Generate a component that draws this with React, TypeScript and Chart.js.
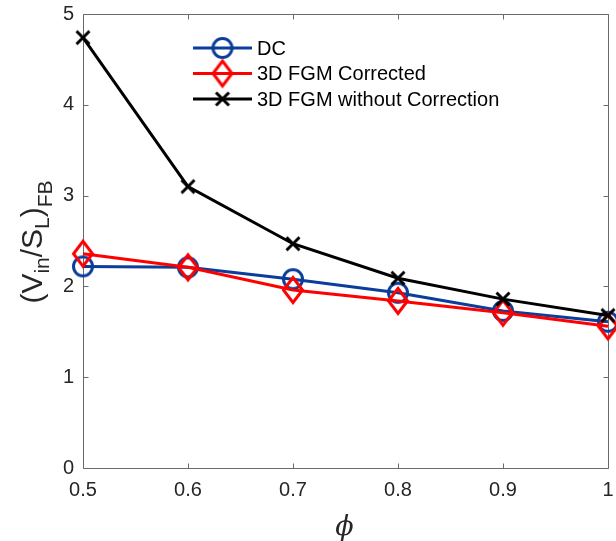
import { useEffect, useRef } from 'react';
import { Chart, registerables } from 'chart.js';

Chart.register(...registerables);

// ---- data ----
const PHI_VALUES = [0.5, 0.6, 0.7, 0.8, 0.9, 1.0];
const DC_VALUES = [2.22, 2.21, 2.08, 1.93, 1.73, 1.61];
const FGM_CORRECTED = [2.36, 2.21, 1.96, 1.84, 1.71, 1.56];
const FGM_UNCORRECTED = [4.74, 3.1, 2.47, 2.09, 1.86, 1.68];
const SERIES_NAMES = ['DC', '3D FGM Corrected', '3D FGM without Correction'];
const X_TICKS = [0.5, 0.6, 0.7, 0.8, 0.9, 1.0];
const Y_TICKS = [0, 1, 2, 3, 4, 5];

const BLUE = '#0b3d9a';
const RED = '#ff0000';
const BLACK = '#000000';
const AXIS = '#262626';
const FONT = '"Liberation Sans", Arial, Helvetica, sans-serif';

function makeMarker(kind: string, color: string): HTMLCanvasElement {
  const c = document.createElement('canvas');
  c.width = 34;
  c.height = 34;
  const g = c.getContext('2d')!;
  g.strokeStyle = color;
  g.lineWidth = 3;
  const m = 17;
  g.beginPath();
  if (kind === 'circle') {
    g.arc(m, m, 9.5, 0, Math.PI * 2);
  } else if (kind === 'diamond') {
    g.moveTo(m, m - 12.5);
    g.lineTo(m + 9.5, m);
    g.lineTo(m, m + 12.5);
    g.lineTo(m - 9.5, m);
    g.closePath();
  } else {
    g.moveTo(m - 6.5, m - 6.5);
    g.lineTo(m + 6.5, m + 6.5);
    g.moveTo(m + 6.5, m - 6.5);
    g.lineTo(m - 6.5, m + 6.5);
  }
  g.stroke();
  return c;
}

export default function App() {
  const ref = useRef<HTMLCanvasElement>(null);

  useEffect(() => {
    const markers = [
      makeMarker('circle', BLUE),
      makeMarker('diamond', RED),
      makeMarker('x', BLACK),
    ];
    const colors = [BLUE, RED, BLACK];
    const seriesValues = [DC_VALUES, FGM_CORRECTED, FGM_UNCORRECTED];

    const boxPlugin = {
      id: 'matlabBox',
      beforeDatasetsDraw(chart: any) {
        const { ctx, chartArea: a, scales } = chart;
        ctx.save();
        ctx.strokeStyle = '#6a6a6a';
        ctx.lineWidth = 1;
        const L = Math.round(a.left) + 0.5;
        const R = Math.round(a.right) + 0.5;
        const T = Math.round(a.top) + 0.5;
        const B = Math.round(a.bottom) + 0.5;
        ctx.beginPath();
        ctx.rect(L, T, R - L, B - T);
        const tl = 5;
        X_TICKS.forEach((v) => {
          const px = Math.round(scales.x.getPixelForValue(v)) + 0.5;
          ctx.moveTo(px, B);
          ctx.lineTo(px, B - tl);
          ctx.moveTo(px, T);
          ctx.lineTo(px, T + tl);
        });
        Y_TICKS.forEach((v) => {
          const py = Math.round(scales.y.getPixelForValue(v)) + 0.5;
          ctx.moveTo(L, py);
          ctx.lineTo(L + tl, py);
          ctx.moveTo(R, py);
          ctx.lineTo(R - tl, py);
        });
        ctx.stroke();
        ctx.restore();
      },
      afterDraw(chart: any) {
        const { ctx, chartArea: a } = chart;
        ctx.save();
        // legend
        const lx0 = 193, lx1 = 252, tx = 257;
        const rows = [48, 73.5, 99];
        ctx.font = `20px ${FONT}`;
        ctx.textBaseline = 'middle';
        ctx.textAlign = 'left';
        SERIES_NAMES.forEach((name, i) => {
          const y = rows[i];
          ctx.strokeStyle = colors[i];
          ctx.lineWidth = 3;
          ctx.beginPath();
          ctx.moveTo(lx0, y);
          ctx.lineTo(lx1, y);
          ctx.stroke();
          const mk = markers[i];
          ctx.drawImage(mk, (lx0 + lx1) / 2 - mk.width / 2, y - mk.height / 2);
          ctx.fillStyle = '#000';
          ctx.fillText(name, tx, y + 1);
        });

        // y axis title (V_in/S_L)_FB, rotated
        const cy = 242;
        ctx.translate(42, cy);
        ctx.rotate(-Math.PI / 2);
        const mainF = `30px ${FONT}`;
        const subF = `21px ${FONT}`;
        const parts: [string, boolean, number][] = [
          ['(V', false, 0],
          ['in', true, 7],
          ['/S', false, 0],
          ['L', true, 7],
          [')', false, 0],
          ['FB', true, 10],
        ];
        let total = 0;
        parts.forEach(([t, sub]) => {
          ctx.font = sub ? subF : mainF;
          total += ctx.measureText(t).width;
        });
        let x = -total / 2;
        ctx.fillStyle = AXIS;
        ctx.textBaseline = 'alphabetic';
        parts.forEach(([t, sub, off]) => {
          ctx.font = sub ? subF : mainF;
          ctx.fillText(t, x, off);
          x += ctx.measureText(t).width;
        });
        ctx.restore();

        // x axis title phi
        ctx.save();
        ctx.font = 'italic 27px "DejaVu Serif", "Liberation Serif", serif';
        ctx.fillStyle = AXIS;
        ctx.textAlign = 'center';
        ctx.textBaseline = 'alphabetic';
        ctx.fillText('\u03D5', (a.left + a.right) / 2 - 1, 535);
        ctx.restore();
      },
    };

    const datasets = seriesValues.map((vals, i) => ({
      label: SERIES_NAMES[i],
      data: PHI_VALUES.map((x, j) => ({ x, y: vals[j] })),
      borderColor: colors[i],
      backgroundColor: colors[i],
      borderWidth: 3,
      pointStyle: markers[i],
      pointRadius: 10,
      tension: 0,
      clip: false as any,
      order: 3 - i,
    }));

    const chart = new Chart(ref.current!, {
      type: 'line',
      data: { datasets },
      plugins: [boxPlugin],
      options: {
        animation: false,
        responsive: false,
        devicePixelRatio: 1,
        layout: { autoPadding: false, padding: { top: 14, right: 8, bottom: 0, left: 0 } },
        plugins: { legend: { display: false }, tooltip: { enabled: false } },
        scales: {
          x: {
            type: 'linear',
            min: 0.5,
            max: 1,
            afterBuildTicks: (s: any) => {
              s.ticks = X_TICKS.map((v) => ({ value: v }));
            },
            afterFit: (s: any) => {
              s.height = 73;
              s.paddingLeft = 0;
              s.paddingRight = 0;
            },
            grid: { display: false, drawTicks: false },
            border: { display: false },
            ticks: {
              padding: 10,
              color: AXIS,
              font: { family: FONT, size: 20 },
              maxRotation: 0,
              autoSkip: false,
              callback: (v: any) => String(parseFloat(Number(v).toFixed(1))),
            },
          },
          y: {
            type: 'linear',
            min: 0,
            max: 5,
            afterBuildTicks: (s: any) => {
              s.ticks = Y_TICKS.map((v) => ({ value: v }));
            },
            afterFit: (s: any) => {
              s.width = 83;
              s.paddingTop = 0;
              s.paddingBottom = 0;
            },
            grid: { display: false, drawTicks: false },
            border: { display: false },
            ticks: {
              padding: 9,
              color: AXIS,
              font: { family: FONT, size: 20 },
              callback: (v: any) => String(v),
            },
          },
        },
      },
    });
    return () => chart.destroy();
  }, []);

  return (
    <div style={{ position: 'fixed', left: 0, top: 0, width: 616, height: 541, background: '#fff' }}>
      <canvas ref={ref} width={616} height={541} style={{ width: 616, height: 541 }} />
    </div>
  );
}
